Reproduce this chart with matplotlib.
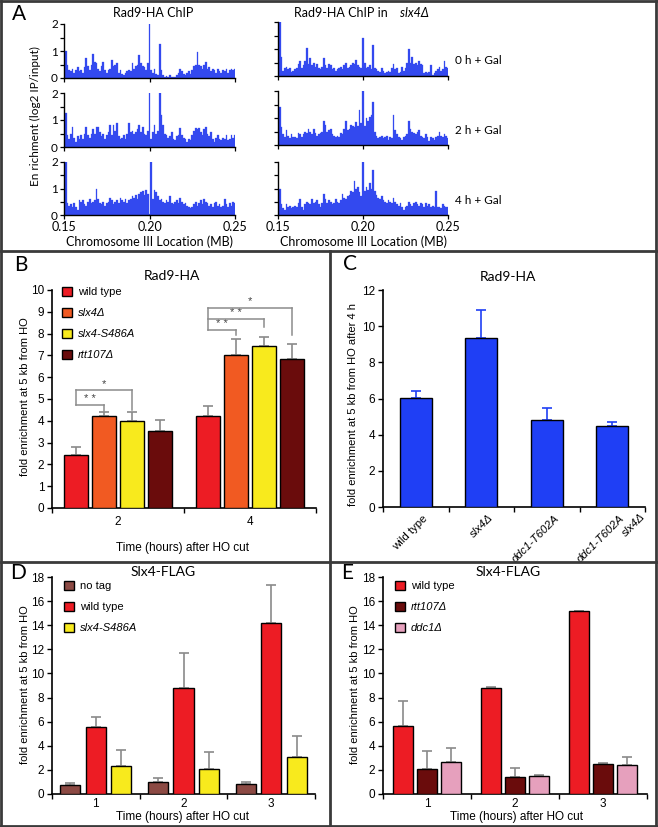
import numpy as np
import matplotlib
matplotlib.use('Agg')
import matplotlib.pyplot as plt
import matplotlib.transforms as mtransforms
from matplotlib.lines import Line2D

plt.rcParams['font.family'] = ['Liberation Sans', 'DejaVu Sans']
MYR = ['Lato', 'DejaVu Sans']

# ---------------- DATA ----------------
# Panel A: ChIP-chip profiles, log2 IP/input, bins of 1 kb from 0.150 MB
chip_start = 0.15
chip_step = 0.001
wt_0h = [0.3, 1.0, 0.5, 0.3, 0.25, 0.35, 0.2, 0.3, 0.4, 0.25,
         0.3, 0.2, 0.4, 0.75, 0.45, 0.3, 0.5, 0.9, 0.6, 0.55,
         0.35, 0.25, 0.45, 0.6, 0.3, 0.2, 0.3, 0.35, 0.65, 0.45,
         0.5, 0.55, 0.2, 0.3, 0.15, 0.1, 0.2, 0.25, 0.3, 0.25,
         0.55, 0.35, 0.45, 0.5, 0.85, 0.55, 0.45, 0.4, 0.3, 0.55,
         2.0, 0.3, 0.2, 0.35, 0.15, 0.1, 1.25, 0.3, 0.1, 0.05,
         0.08, 0.05, 0.1, 0.05, 0.03, 0.05, 0.1, 0.2, 0.35, 0.25,
         0.15, 0.1, 0.2, 0.25, 0.15, 0.3, 0.45, 0.5, 0.98, 0.5,
         0.45, 0.35, 0.5, 0.6, 0.35, 0.4, 0.25, 0.35, 0.3, 0.2,
         0.35, 0.25, 0.2, 0.3, 0.25, 0.35, 0.2, 0.3, 0.35, 0.3, 0.35]
wt_2h = [0.5, 1.25, 0.45, 0.3, 0.5, 0.75, 0.35, 0.2, 0.4, 0.3,
         0.45, 0.3, 0.5, 0.75, 0.45, 0.35, 0.5, 0.65, 0.5, 0.75,
         0.75, 0.55, 0.4, 0.5, 0.3, 0.45, 0.55, 0.8, 0.45, 0.8,
         0.6, 0.9, 0.4, 0.3, 0.35, 0.45, 0.3, 0.5, 0.9, 0.55,
         0.6, 0.5, 0.55, 0.65, 0.8, 0.55, 0.75, 0.5, 0.45, 0.6,
         2.0, 0.3, 0.55, 0.8, 0.5, 0.6, 2.0, 1.2, 0.8, 0.5,
         0.45, 0.35, 0.4, 0.55, 0.3, 0.25, 0.4, 0.45, 0.7, 0.45,
         0.35, 0.3, 0.2, 0.3, 0.25, 0.45, 0.6, 0.7, 0.65, 0.7,
         0.55, 0.45, 0.65, 0.75, 0.5, 0.4, 0.55, 0.3, 0.2, 0.35,
         0.45, 0.3, 0.25, 0.35, 0.3, 0.45, 0.25, 0.3, 0.45, 0.35, 0.45]
wt_4h = [0.4, 2.0, 0.45, 0.35, 0.4, 0.3, 0.45, 0.3, 0.2, 0.55,
         0.5, 0.55, 0.4, 0.35, 0.5, 0.6, 0.45, 0.5, 0.55, 1.0,
         0.6, 0.45, 0.4, 0.5, 0.35, 0.45, 0.5, 0.65, 0.55, 0.4,
         0.5, 0.55, 0.45, 0.65, 0.55, 0.5, 0.6, 0.45, 0.55, 0.6,
         0.7, 0.65, 0.75, 0.6, 0.8, 0.85, 0.9, 0.75, 0.95, 0.8,
         0.05, 2.0, 0.6, 0.95, 0.85, 0.7, 0.55, 0.6, 0.5, 0.45,
         0.55, 0.5, 0.7, 0.45, 0.4, 0.5, 0.55, 0.45, 0.65, 0.5,
         0.4, 0.45, 0.35, 0.3, 0.25, 0.3, 0.4, 0.5, 0.35, 0.45,
         0.55, 0.4, 0.6, 0.5, 0.45, 0.35, 0.4, 0.3, 0.45, 0.5,
         0.35, 0.4, 0.3, 0.35, 0.6, 0.4, 0.3, 0.45, 0.35, 0.5, 0.45]
slx4_0h = [0.3, 2.0, 0.7, 0.2, 0.3, 0.35, 0.25, 0.3, 0.15, 0.2,
           0.25, 0.3, 0.45, 0.55, 0.3, 0.4, 0.55, 1.05, 0.45, 0.65,
           0.4, 0.5, 0.35, 0.45, 0.3, 0.25, 0.35, 0.65, 0.4, 0.3,
           0.45, 0.4, 0.25, 0.3, 0.2, 0.25, 0.3, 0.35, 0.25, 0.4,
           0.5, 0.3, 0.35, 0.4, 0.5, 0.45, 0.6, 0.4, 0.35, 0.3,
           1.4, 0.5, 0.3, 0.35, 0.4, 0.25, 1.15, 0.3, 0.25, 0.2,
           0.15, 0.3, 0.2, 0.1, 0.15, 0.2, 0.15, 0.3, 0.45, 0.25,
           0.3, 0.1, 0.15, 0.35, 0.2, 0.3, 0.5, 1.0, 0.5, 0.7,
           0.45, 0.5, 0.4, 0.55, 0.45, 0.4, 0.1, 0.15, 0.1, 0.15,
           0.4, 0.05, 0.1, 0.2, 0.25, 0.35, 0.2, 0.25, 0.55, 0.35, 0.3]
slx4_2h = [0.6, 1.4, 0.65, 0.4, 0.3, 0.55, 0.35, 0.25, 0.4, 0.3,
           0.3, 0.25, 0.45, 0.4, 0.3, 0.4, 0.5, 0.45, 0.6, 0.5,
           0.4, 0.6, 0.45, 0.35, 0.4, 0.45, 0.5, 0.9, 0.75, 0.5,
           0.55, 0.6, 0.4, 0.35, 0.3, 0.35, 0.3, 0.45, 0.4, 0.6,
           0.9, 0.55, 0.6, 0.75, 0.7, 0.65, 0.85, 0.7, 1.3, 0.8,
           2.0, 0.7, 1.0, 0.9, 1.05, 1.1, 1.6, 0.5, 0.35, 0.25,
           0.3, 0.35, 0.25, 0.3, 0.35, 0.2, 0.3, 0.25, 1.1, 0.55,
           0.4, 0.3, 0.25, 0.2, 0.3, 0.35, 0.4, 0.9, 0.6, 0.5,
           0.45, 0.4, 0.5, 0.55, 0.35, 0.3, 0.25, 0.4, 0.3, 0.15,
           0.3, 0.25, 0.2, 0.3, 0.35, 0.5, 0.35, 0.3, 0.4, 0.35, 0.25]
slx4_4h = [0.55, 1.0, 0.4, 0.25, 0.2, 0.4, 0.3, 0.35, 0.25, 0.3,
           0.35, 0.3, 0.45, 0.6, 0.3, 0.2, 0.4, 0.5, 0.45, 0.4,
           0.6, 0.45, 0.5, 0.55, 0.4, 0.3, 0.45, 0.8, 0.6, 0.45,
           0.55, 0.5, 0.4, 0.45, 0.6, 0.5, 0.45, 0.55, 0.8, 0.65,
           0.6, 0.7, 0.75, 0.9, 0.85, 1.3, 1.0, 1.05, 0.85, 0.7,
           2.0, 0.9, 1.05, 0.95, 1.2, 1.0, 1.7, 0.9, 0.75, 0.65,
           0.6, 0.7, 0.55, 0.5, 0.45, 0.55, 0.5, 0.45, 0.65, 0.5,
           0.4, 0.35, 0.45, 0.3, 0.2, 0.3, 0.35, 0.5, 0.4, 0.35,
           0.45, 0.5, 0.4, 0.35, 0.45, 0.4, 0.3, 0.45, 0.35, 0.4,
           0.3, 0.35, 0.3, 0.9, 0.3, 0.3, 0.25, 0.4, 0.35, 0.3, 0.3]
a_conditions = ['0 h + Gal', '2 h + Gal', '4 h + Gal']
a_xticks = [0.15, 0.20, 0.25]
a_xticklabels = ['0.15', '0.20', '0.25']

# Panel B: Rad9-HA fold enrichment
b_times = ['2', '4']
b_strains = ['wild type', 'slx4Δ', 'slx4-S486A', 'rtt107Δ']
b_wt = [2.45, 4.2]
b_wt_err = [0.35, 0.5]
b_slx4 = [4.2, 7.0]
b_slx4_err = [0.2, 0.75]
b_s486a = [4.0, 7.45]
b_s486a_err = [0.4, 0.38]
b_rtt107 = [3.52, 6.82]
b_rtt107_err = [0.5, 0.7]
# significance comparisons: (time index, strain index compared with wild type, label)
b_sig = [(0, 1, '* *'), (0, 2, '*'), (1, 1, '* *'), (1, 2, '* *'), (1, 3, '*')]

# Panel C: Rad9-HA after 4 h
c_strains = ['wild type', 'slx4Δ', 'ddc1-T602A', 'ddc1-T602A']
c_means = [6.02, 9.35, 4.82, 4.47]
c_errs = [0.4, 1.57, 0.65, 0.25]

# Panel D: Slx4-FLAG
d_times = ['1', '2', '3']
d_strains = ['no tag', 'wild type', 'slx4-S486A']
d_notag = [0.72, 1.0, 0.82]
d_notag_err = [0.22, 0.35, 0.2]
d_wt = [5.55, 8.8, 14.2]
d_wt_err = [0.85, 2.9, 3.15]
d_s486a = [2.32, 2.07, 3.1]
d_s486a_err = [1.3, 1.38, 1.7]

# Panel E: Slx4-FLAG
e_times = ['1', '2', '3']
e_strains = ['wild type', 'rtt107Δ', 'ddc1Δ']
e_wt = [5.65, 8.82, 15.15]
e_wt_err = [2.05, 0.08, 0.03]
e_rtt107 = [2.1, 1.38, 2.46]
e_rtt107_err = [1.48, 0.8, 0.08]
e_ddc1 = [2.68, 1.52, 2.43]
e_ddc1_err = [1.12, 0.02, 0.6]

# ---------------- STYLE ----------------
W, H = 658, 827
fig = plt.figure(figsize=(W / 100, H / 100), dpi=100)
fig.patch.set_facecolor('white')

PROFILE_BLUE = '#3349ef'
BAR_BLUE = '#1f3ff5'
RED = '#ed1c24'
ORANGE = '#f15a22'
YELLOW = '#f8ea1d'
MAROON = '#6a0c0c'
BROWN = '#8c4a44'
PINK = '#e6a0bd'
ERR_GRAY = '#8a8a8a'
BORDER = '#3a3a3a'


def ax_px(x0, y_top, x1, y_bot):
    return fig.add_axes([x0 / W, 1 - y_bot / H, (x1 - x0) / W, (y_bot - y_top) / H])


def ftext(x, y, s, **kw):
    kw.setdefault('va', 'center')
    return fig.text(x / W, 1 - y / H, s, **kw)


def style_axes(ax, lw=1.1):
    for s in ['top', 'right']:
        ax.spines[s].set_visible(False)
    for s in ['left', 'bottom']:
        ax.spines[s].set_linewidth(lw)
        ax.spines[s].set_color('black')


def fline(x0, y0, x1, y1):
    fig.add_artist(Line2D([x0 / W, x1 / W], [1 - y0 / H, 1 - y1 / H], color=BORDER, lw=2.0,
                          transform=fig.transFigure))


fline(1, 1, 657, 1)
fline(1, 826, 657, 826)
fline(1, 1, 1, 826)
fline(656, 1, 656, 826)
fline(1, 251, 657, 251)
fline(1, 562, 657, 562)
fline(330, 251, 330, 826)

# ---------------- PANEL A ----------------
profiles = [[wt_0h, slx4_0h], [wt_2h, slx4_2h], [wt_4h, slx4_4h]]
rows_left = [(24, 78), (93, 147), (162, 215)]
rows_right = [(22, 76), (91, 145), (162, 215)]
cols = [(64, 235), (278, 448)]
for r in range(3):
    for c in range(2):
        yt, yb = (rows_left if c == 0 else rows_right)[r]
        x0, x1 = cols[c]
        ax = ax_px(x0, yt, x1, yb)
        vals = np.array(profiles[r][c])
        pos = chip_start + chip_step * np.arange(len(vals))
        ax.bar(pos, vals, width=chip_step, color=PROFILE_BLUE, linewidth=0.2,
               edgecolor=PROFILE_BLUE)
        ax.set_xlim(0.15, 0.25)
        ax.set_ylim(0, 2)
        style_axes(ax, 1.0)
        ax.set_yticks([0, 1, 2])
        ax.set_yticks([0.5, 1.5], minor=True)
        ax.set_xticks(a_xticks)
        ax.tick_params(axis='both', which='both', direction='out', length=3, width=0.9,
                       labelsize=8.5, pad=1.5)
        if c == 0:
            ax.set_yticklabels(['0', '1', '2'], family=MYR)
        else:
            ax.tick_params(axis='y', labelleft=False)
        if r == 2:
            ax.set_xticklabels(a_xticklabels, family=MYR, fontsize=9)
        else:
            ax.tick_params(axis='x', labelbottom=False)
        ax.patch.set_alpha(0)

ftext(12, 14, 'A', fontsize=15, family=MYR, ha='left')
ftext(153, 13, 'Rad9-HA ChIP', fontsize=9, family=MYR, ha='center')
ftext(388, 13, 'Rad9-HA ChIP in', fontsize=9, family=MYR, ha='right')
ftext(400, 13, 'slx4Δ', fontsize=9, family=MYR, ha='left', style='italic')
for lab, yy in zip(a_conditions, [61, 130, 200]):
    ftext(455, yy, lab, fontsize=8.5, family=MYR, ha='left')
ftext(149, 242, 'Chromosome III Location (MB)', fontsize=9, family=MYR, ha='center')
ftext(363, 242, 'Chromosome III Location (MB)', fontsize=9, family=MYR, ha='center')
ftext(35, 116, 'En richment (log2 IP/input)', fontsize=8.5, family=MYR, ha='center',
      rotation=90)

# ---------------- PANEL B ----------------
axB = ax_px(52, 290, 316, 508)
style_axes(axB, 1.2)
b_vals = [b_wt, b_slx4, b_s486a, b_rtt107]
b_errs = [b_wt_err, b_slx4_err, b_s486a_err, b_rtt107_err]
b_cols = [RED, ORANGE, YELLOW, MAROON]
xg = np.arange(len(b_times))
b_off = (np.arange(4) - 1.5) * 0.212
for i in range(4):
    xs = xg + b_off[i]
    axB.bar(xs, b_vals[i], width=0.175, color=b_cols[i], edgecolor='black', linewidth=1.0,
            zorder=3, label=b_strains[i])
    axB.errorbar(xs, b_vals[i], yerr=[np.zeros(len(xs)), b_errs[i]], fmt='none',
                 ecolor=ERR_GRAY, elinewidth=1.2, capsize=3.5, capthick=1.2, zorder=2)
b_bracket_h = [4.72, 5.4, 8.16, 8.65, 9.19]
b_leg_end = [4.47, 4.48, 7.93, 8.3, 7.93]
for (g, j, lab), h, le in zip(b_sig, b_bracket_h, b_leg_end):
    xa = g + b_off[0]
    xb = g + b_off[j]
    axB.plot([xa, xb], [h, h], color='#8c8c8c', lw=1.1, zorder=4)
    axB.plot([xb, xb], [h, le], color='#8c8c8c', lw=1.1, zorder=4)
    axB.text((xa + xb) / 2, h + 0.06, lab, ha='center', va='bottom', fontsize=8,
             color='#444444')
for g in range(len(b_times)):
    hs = [h for (gg, j, l), h in zip(b_sig, b_bracket_h) if gg == g]
    axB.plot([g + b_off[0]] * 2, [min(hs), max(hs)], color='#8c8c8c', lw=1.1, zorder=4)
axB.set_xlim(-0.5, 1.5)
axB.set_ylim(0, 10)
axB.set_yticks(range(0, 11))
axB.set_xticks(xg)
axB.set_xticklabels(b_times)
axB.set_xticks([-0.5, 0.5, 1.5], minor=True)
axB.tick_params(axis='y', direction='out', length=3.5, width=1, labelsize=8.5, pad=2)
axB.tick_params(axis='x', which='major', length=0, labelsize=8.5, pad=6)
axB.tick_params(axis='x', which='minor', direction='out', length=3.5, width=1)
legB = axB.legend(loc='upper left', bbox_to_anchor=(62 / W, 1 - 287 / H),
                  bbox_transform=fig.transFigure, frameon=False, fontsize=8,
                  handlelength=0.9, handleheight=0.9, labelspacing=0.95,
                  handletextpad=0.55, borderpad=0, borderaxespad=0)
for k, t in enumerate(legB.get_texts()):
    if k > 0:
        t.set_fontstyle('italic')
ftext(14, 265, 'B', fontsize=15, family=MYR, ha='left')
ftext(172, 276, 'Rad9-HA', fontsize=10, family=MYR, ha='center')
ftext(182, 548, 'Time (hours) after HO cut', fontsize=8.5, ha='center')
ftext(25, 397, 'fold enrichment at 5 kb from HO', fontsize=8, ha='center', rotation=90)

# ---------------- PANEL C ----------------
axC = ax_px(383, 290, 645, 507)
style_axes(axC, 1.2)
xc = np.arange(len(c_strains))
axC.bar(xc, c_means, width=0.49, color=BAR_BLUE, edgecolor='black', linewidth=1.0, zorder=3)
axC.errorbar(xc, c_means, yerr=[np.zeros(len(xc)), c_errs], fmt='none', ecolor=BAR_BLUE,
             elinewidth=1.2, capsize=3.5, capthick=1.2, zorder=2)
axC.set_xlim(-0.5, 3.5)
axC.set_ylim(0, 12)
axC.set_yticks(range(0, 13, 2))
axC.set_xticks(xc)
axC.set_xticklabels([''] * len(xc))
axC.set_xticks(np.arange(-0.5, 4, 1), minor=True)
axC.tick_params(axis='y', direction='out', length=3.5, width=1, labelsize=8.5, pad=2)
axC.tick_params(axis='x', which='major', length=0)
axC.tick_params(axis='x', which='minor', direction='out', length=3.5, width=1)
for i, lab in enumerate(c_strains):
    tr = axC.get_xaxis_transform() + mtransforms.ScaledTranslation(7 / 100, -6 / 100,
                                                                      fig.dpi_scale_trans)
    axC.text(i, 0, lab, transform=tr, rotation=45, rotation_mode='anchor', ha='right',
             va='top', fontsize=8.2, style='normal' if i == 0 else 'italic')
tr2 = axC.get_xaxis_transform() + mtransforms.ScaledTranslation(28 / 100, -5 / 100,
                                                                   fig.dpi_scale_trans)
axC.text(3, 0, 'slx4Δ', transform=tr2, rotation=45, rotation_mode='anchor', ha='right',
         va='top', fontsize=8.2, style='italic')
ftext(343, 264, 'C', fontsize=15, family=MYR, ha='left')
ftext(508, 277, 'Rad9-HA', fontsize=10, family=MYR, ha='center')
ftext(353, 405, 'fold enrichment at 5 kb from HO after 4 h', fontsize=8, ha='center',
      rotation=90)


# ---------------- PANELS D & E ----------------
def grouped(ax, vals, errs, cols, labels, step):
    style_axes(ax, 1.2)
    xg = np.arange(1, 4)
    off = np.array([-1, 0, 1]) * step
    for i in range(3):
        xs = xg + off[i]
        ax.bar(xs, vals[i], width=0.23, color=cols[i], edgecolor='black', linewidth=1.0,
               zorder=3, label=labels[i])
        ax.errorbar(xs, vals[i], yerr=[np.zeros(3), errs[i]], fmt='none', ecolor=ERR_GRAY,
                    elinewidth=1.2, capsize=3.5, capthick=1.2, zorder=2)
    ax.set_xlim(0.5, 3.5)
    ax.set_ylim(0, 18)
    ax.set_yticks(range(0, 19, 2))
    ax.set_xticks(xg)
    ax.set_xticklabels(['1', '2', '3'])
    ax.set_xticks([0.5, 1.5, 2.5, 3.5], minor=True)
    ax.tick_params(axis='y', direction='out', length=3.5, width=1, labelsize=8.5, pad=2)
    ax.tick_params(axis='x', which='major', length=0, labelsize=8.5, pad=3)
    ax.tick_params(axis='x', which='minor', direction='out', length=3.5, width=1)
    return ax


axD = ax_px(52, 577, 315, 794)
grouped(axD, [d_notag, d_wt, d_s486a], [d_notag_err, d_wt_err, d_s486a_err],
        [BROWN, RED, YELLOW], d_strains, 0.29)
legD = axD.legend(loc='upper left', bbox_to_anchor=(64 / W, 1 - 581 / H),
                  bbox_transform=fig.transFigure, frameon=False, fontsize=8,
                  handlelength=0.9, handleheight=0.9, labelspacing=0.95,
                  handletextpad=0.55, borderpad=0, borderaxespad=0)
legD.get_texts()[2].set_fontstyle('italic')

axE = ax_px(383, 577, 647, 794)
grouped(axE, [e_wt, e_rtt107, e_ddc1], [e_wt_err, e_rtt107_err, e_ddc1_err],
        [RED, MAROON, PINK], e_strains, 0.27)
legE = axE.legend(loc='upper left', bbox_to_anchor=(395 / W, 1 - 581 / H),
                  bbox_transform=fig.transFigure, frameon=False, fontsize=8,
                  handlelength=0.9, handleheight=0.9, labelspacing=0.95,
                  handletextpad=0.55, borderpad=0, borderaxespad=0)
for t in legE.get_texts()[1:]:
    t.set_fontstyle('italic')

ftext(10, 573, 'D', fontsize=15, family=MYR, ha='left')
ftext(341, 573, 'E', fontsize=15, family=MYR, ha='left')
ftext(163, 572, 'Slx4-FLAG', fontsize=10, family=MYR, ha='center')
ftext(508, 572, 'Slx4-FLAG', fontsize=10, family=MYR, ha='center')
ftext(183, 817, 'Time (hours) after HO cut', fontsize=8.5, ha='center')
ftext(516, 817, 'Time (hours) after HO cut', fontsize=8.5, ha='center')
ftext(25, 685, 'fold enrichment at 5 kb from HO', fontsize=8, ha='center', rotation=90)
ftext(355, 685, 'fold enrichment at 5 kb from HO', fontsize=8, ha='center', rotation=90)

fig.savefig('out.png', dpi=100)
